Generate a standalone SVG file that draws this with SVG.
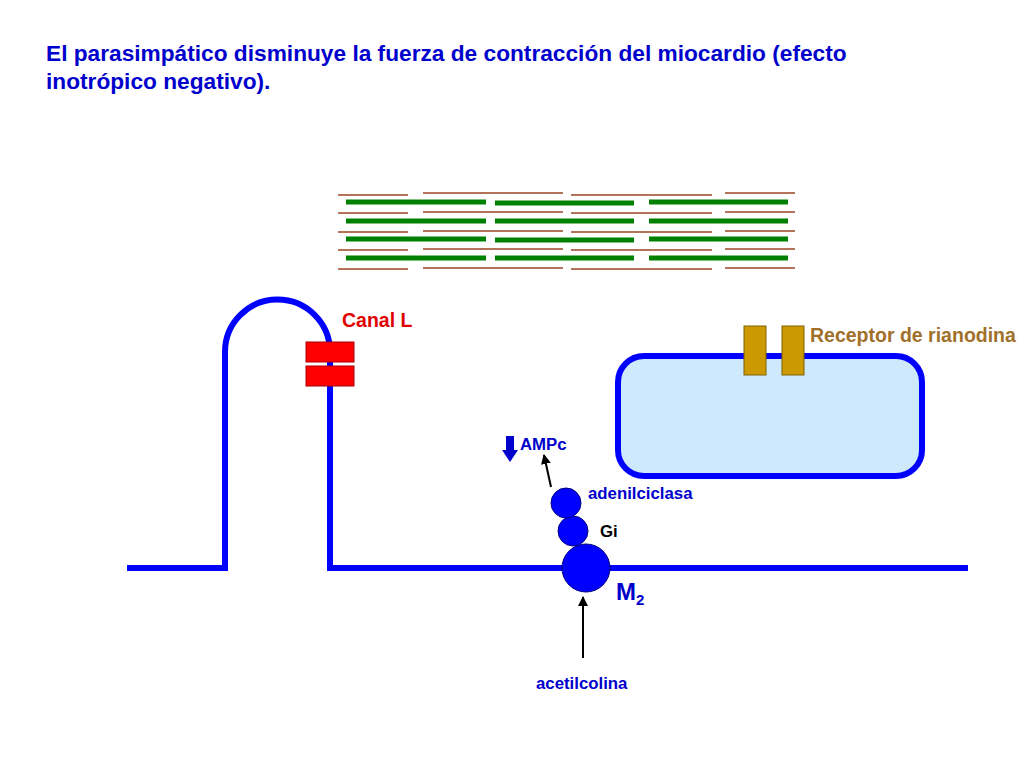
<svg xmlns="http://www.w3.org/2000/svg" width="1024" height="768" viewBox="0 0 1024 768">
<style>
text{font-family:"Liberation Sans",Arial,sans-serif;font-weight:bold}
.s{font-size:16.8px}
.g{stroke:#008000;stroke-width:5}
.b{stroke:#b5735a;stroke-width:2}
.m{fill:none;stroke:#0000ff;stroke-width:6}
.c{fill:#0000ff;stroke:#000080;stroke-width:1}
</style>
<defs>
<marker id="a" markerWidth="10" markerHeight="10" refX="9" refY="5" orient="auto" markerUnits="userSpaceOnUse"><path d="M0,0L10,5L0,10z" fill="#000"/></marker>
</defs>
<rect width="1024" height="768" fill="#fff"/>
<text x="46" y="61" font-size="22.7" fill="#0000cc">El parasimpático disminuye la fuerza de contracción del miocardio (efecto</text>
<text x="46" y="89" font-size="22.7" fill="#0000cc">inotrópico negativo).</text>
<g id="sarcomeres">
<g class="b">
<path d="M338 195h70M423 193h70M493 193h70M571 195h70M641 195h71M725 193h70"/>
<path d="M338 213h70M423 212h70M493 212h70M571 213h70M641 213h71M725 212h70"/>
<path d="M338 232h70M423 231h70M493 231h70M571 232h70M641 232h71M725 231h70"/>
<path d="M338 250h70M423 249h70M493 249h70M571 250h70M641 250h71M725 249h70"/>
<path d="M338 269h70M423 268h70M493 268h70M571 269h70M641 269h71M725 268h70"/>
</g>
<g class="g">
<path d="M346 202h140M495 203h139M649 202h139"/>
<path d="M346 221h140M495 221h139M649 221h139"/>
<path d="M346 239h140M495 240h139M649 239h139"/>
<path d="M346 258h140M495 258h139M649 258h139"/>
</g>
</g>
<g id="membrane"><path class="m" d="M127 568H225V352A52.5 52.5 0 0 1 330 352V568H968"/></g>
<g id="canalL">
<rect x="306" y="342" width="48" height="20" fill="#ff0000" stroke="#a00"/>
<rect x="306" y="366" width="48" height="20" fill="#ff0000" stroke="#a00"/>
<text x="342" y="327" font-size="19.5" fill="#e00000">Canal L</text>
</g>
<g id="sr">
<rect x="618" y="356" width="304" height="120" rx="26" fill="#cde9fb" stroke="#0000ff" stroke-width="6"/>
<rect x="744" y="326" width="22" height="49" fill="#cc9900" stroke="#806000"/>
<rect x="782" y="326" width="22" height="49" fill="#cc9900" stroke="#806000"/>
<text x="810" y="342" font-size="19.5" fill="#a0702a">Receptor de rianodina</text>
</g>
<g id="receptor">
<circle class="c" cx="586" cy="568" r="24"/>
<circle class="c" cx="573" cy="531" r="15"/>
<circle class="c" cx="566" cy="503" r="15"/>
<text x="616" y="600" font-size="24" fill="#0000cc">M<tspan font-size="15" dy="5">2</tspan></text>
<text class="s" x="600" y="537" fill="#000">Gi</text>
<text class="s" x="588" y="499" fill="#0000cc">adenilciclasa</text>
<text class="s" x="520" y="450" fill="#0000cc">AMPc</text>
<path d="M506 436h8v14h4l-8 12-8-12h4z" fill="#0000cc"/>
<text class="s" x="536" y="689" fill="#0000cc">acetilcolina</text>
</g>
<g id="connectors" stroke="#000" stroke-width="2">
<line x1="551" y1="487" x2="544" y2="455" marker-end="url(#a)"/>
<line x1="583" y1="658" x2="583" y2="597" marker-end="url(#a)"/>
</g>
</svg>
